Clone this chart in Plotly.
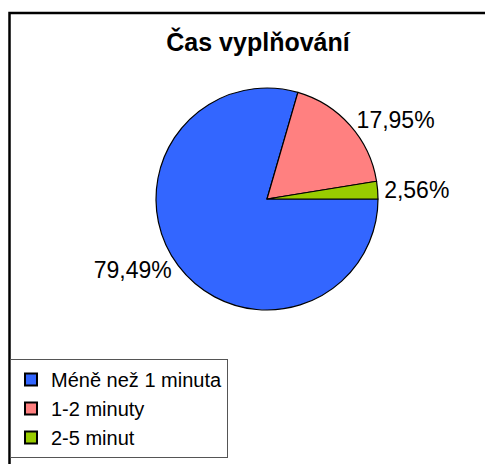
import plotly.graph_objects as go

labels = ["Méně než 1 minuta", "1-2 minuty", "2-5 minut"]
values = [79.49, 17.95, 2.56]
colors = ["#3366FF", "#FF8080", "#99CC00"]

W, H = 493, 464
OX, OY = 8, 8  # page body offset
FONT = "Liberation Sans, Arial, sans-serif"


def px(x):
    return (x - OX) / W


def py(y):
    return 1 - (y - OY) / H


fig = go.Figure()
fig.add_trace(go.Pie(
    labels=labels,
    values=values,
    sort=False,
    direction="clockwise",
    rotation=90,
    marker=dict(colors=colors, line=dict(color="black", width=1.2)),
    texttemplate="%{value:.2f}%",
    textposition="outside",
    textfont=dict(family=FONT, size=23, color="black"),
    hoverinfo="label+value",
    domain=dict(x=[px(44), px(490)], y=[py(310), py(88)]),
    showlegend=True,
))

fig.update_layout(
    width=W, height=H,
    margin=dict(l=0, r=0, t=0, b=0, autoexpand=False),
    paper_bgcolor="white",
    plot_bgcolor="white",
    separators=", ",
    title=dict(text="<b>Čas vyplňování</b>", x=px(258), xanchor="center",
               y=py(42), yanchor="middle",
               font=dict(family=FONT, size=25, color="black")),
    legend=dict(x=px(10), y=py(359), xanchor="left", yanchor="top",
                bgcolor="white", bordercolor="#555555", borderwidth=1,
                font=dict(family=FONT, size=20, color="black"),
                itemsizing="constant"),
    shapes=[dict(type="rect", xref="paper", yref="paper",
                 x0=px(9.5), x1=1.05, y0=-0.05, y1=py(13),
                 line=dict(color="black", width=2.5), fillcolor="rgba(0,0,0,0)",
                 layer="below")],
)

fig.write_html("out.html")
